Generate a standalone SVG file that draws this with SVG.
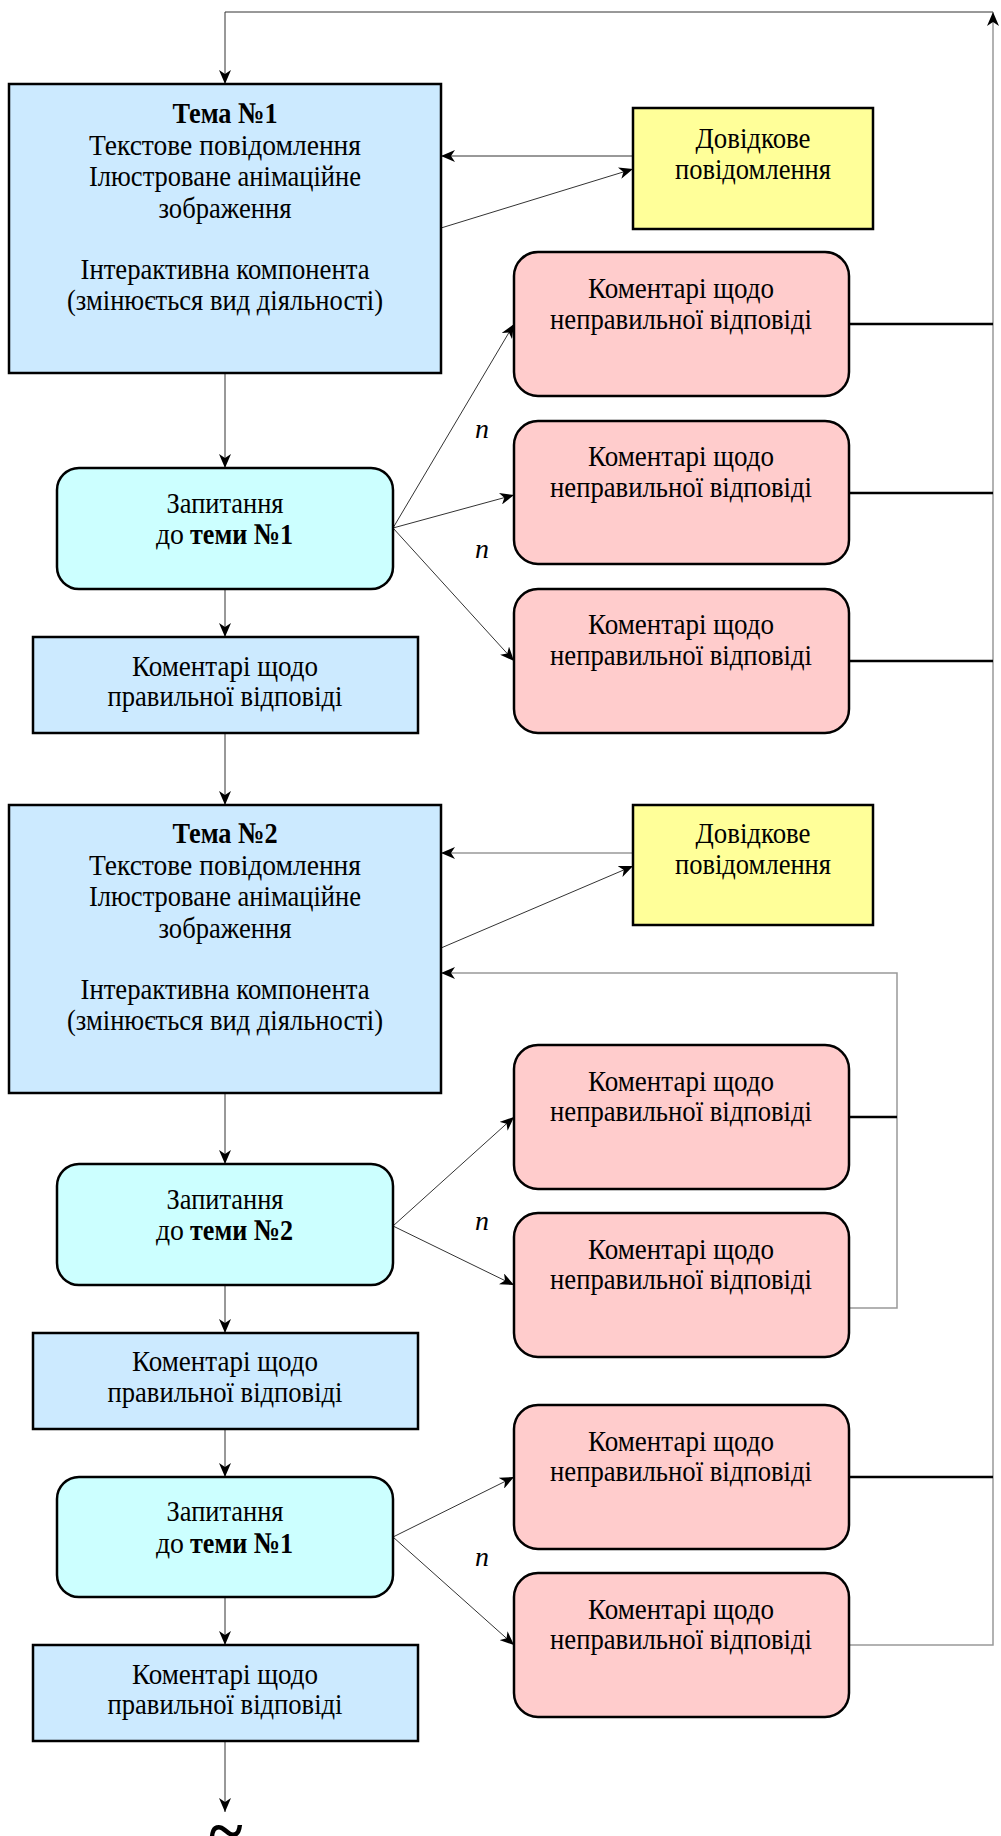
<svg xmlns="http://www.w3.org/2000/svg" width="1001" height="1836" viewBox="0 0 1001 1836">
<style>
text{font-family:"Liberation Serif","Times New Roman",serif;font-size:30px;fill:#000;text-anchor:middle}
.b{font-weight:bold}
.s{text-anchor:start}
.n{font-style:italic;font-size:28px}
.tema{fill:#CCEAFF;stroke:#000;stroke-width:2.5}
.yel{fill:#FFFF99;stroke:#000;stroke-width:2.5}
.pink{fill:#FFCCCC;stroke:#000;stroke-width:2.5}
.q{fill:#CCFFFF;stroke:#000;stroke-width:2.5}
.c{fill:none;stroke:#333;stroke-width:1}
.g{fill:none;stroke:#999;stroke-width:1.5}
.k{fill:none;stroke:#000;stroke-width:2.5}
.a{marker-end:url(#ar)}
</style>
<defs>
<marker id="ar" viewBox="0 0 14 12" refX="14" refY="6" markerWidth="14" markerHeight="12" orient="auto" markerUnits="userSpaceOnUse">
<path d="M0,0 L14,6 L0,12 L4,6 Z" fill="#000"/>
</marker>
</defs>
<g id="connectors">
<path class="g a" d="M849,1645 H993 V12"/>
<path class="c a" d="M993,12 H225 V84"/>
<path class="c a" d="M633,156 H441"/>
<path class="c a" d="M441,228 L633,169"/>
<path class="g a" d="M633,853 H441"/>
<path class="c a" d="M441,948 L633,866"/>
<path class="g a" d="M849,1308 H897 V973 H441"/>
<path class="k" d="M849,324 H993"/>
<path class="k" d="M849,493 H993"/>
<path class="k" d="M849,661 H993"/>
<path class="k" d="M849,1117 H897"/>
<path class="k" d="M849,1477 H993"/>
<path class="c a" d="M225,373 V468"/>
<path class="c a" d="M225,589 V637"/>
<path class="c a" d="M225,733 V805"/>
<path class="c a" d="M225,1093 V1164"/>
<path class="c a" d="M225,1285 V1333"/>
<path class="c a" d="M225,1429 V1477"/>
<path class="c a" d="M225,1597 V1645"/>
<path class="c a" d="M225,1741 V1812"/>
<path class="c a" d="M393,528 L514,324"/>
<path class="c a" d="M393,528 L514,495"/>
<path class="c a" d="M393,528 L514,661"/>
<path class="c a" d="M393,1226 L514,1117"/>
<path class="c a" d="M393,1226 L514,1285"/>
<path class="c a" d="M393,1537 L514,1477"/>
<path class="c a" d="M393,1537 L514,1645"/>
</g>
<g id="tema1">
<rect class="tema" x="9" y="84" width="432" height="289"/>
<text x="225" y="123" class="b" textLength="105" lengthAdjust="spacingAndGlyphs">Тема №1</text>
<text x="225" y="154.5" textLength="272" lengthAdjust="spacingAndGlyphs">Текстове повідомлення</text>
<text x="225" y="186" textLength="272" lengthAdjust="spacingAndGlyphs">Ілюстроване анімаційне</text>
<text x="225" y="217.5" textLength="133" lengthAdjust="spacingAndGlyphs">зображення</text>
<text x="225" y="279" textLength="289" lengthAdjust="spacingAndGlyphs">Інтерактивна компонента</text>
<text x="225" y="310" textLength="316" lengthAdjust="spacingAndGlyphs">(змінюється вид діяльності)</text>
</g>
<g id="dovidka1">
<rect class="yel" x="633" y="108" width="240" height="121"/>
<text x="753" y="148" textLength="115" lengthAdjust="spacingAndGlyphs">Довідкове</text>
<text x="753" y="179" textLength="156" lengthAdjust="spacingAndGlyphs">повідомлення</text>
</g>
<g id="pink1">
<rect class="pink" x="514" y="252" width="335" height="144" rx="24"/>
<text x="681" y="298" textLength="186" lengthAdjust="spacingAndGlyphs">Коментарі щодо</text>
<text x="681" y="329" textLength="262" lengthAdjust="spacingAndGlyphs">неправильної відповіді</text>
</g>
<g id="pink2">
<rect class="pink" x="514" y="421" width="335" height="143" rx="24"/>
<text x="681" y="466" textLength="186" lengthAdjust="spacingAndGlyphs">Коментарі щодо</text>
<text x="681" y="497" textLength="262" lengthAdjust="spacingAndGlyphs">неправильної відповіді</text>
</g>
<g id="pink3">
<rect class="pink" x="514" y="589" width="335" height="144" rx="24"/>
<text x="681" y="634" textLength="186" lengthAdjust="spacingAndGlyphs">Коментарі щодо</text>
<text x="681" y="665" textLength="262" lengthAdjust="spacingAndGlyphs">неправильної відповіді</text>
</g>
<g id="q1">
<rect class="q" x="57" y="468" width="336" height="121" rx="22"/>
<text x="225" y="513" textLength="117" lengthAdjust="spacingAndGlyphs">Запитання</text>
<text x="156" y="544" class="s" textLength="28" lengthAdjust="spacingAndGlyphs">до</text>
<text x="190" y="544" class="s b" textLength="103" lengthAdjust="spacingAndGlyphs">теми №1</text>
</g>
<g id="labels1">
<text x="482" y="438" class="n">n</text>
<text x="482" y="558" class="n">n</text>
</g>
<g id="correct1">
<rect class="tema" x="33" y="637" width="385" height="96"/>
<text x="225" y="676" textLength="186" lengthAdjust="spacingAndGlyphs">Коментарі щодо</text>
<text x="225" y="706" textLength="235" lengthAdjust="spacingAndGlyphs">правильної відповіді</text>
</g>
<g id="tema2">
<rect class="tema" x="9" y="805" width="432" height="288"/>
<text x="225" y="843" class="b" textLength="105" lengthAdjust="spacingAndGlyphs">Тема №2</text>
<text x="225" y="874.5" textLength="272" lengthAdjust="spacingAndGlyphs">Текстове повідомлення</text>
<text x="225" y="906" textLength="272" lengthAdjust="spacingAndGlyphs">Ілюстроване анімаційне</text>
<text x="225" y="937.5" textLength="133" lengthAdjust="spacingAndGlyphs">зображення</text>
<text x="225" y="999" textLength="289" lengthAdjust="spacingAndGlyphs">Інтерактивна компонента</text>
<text x="225" y="1030" textLength="316" lengthAdjust="spacingAndGlyphs">(змінюється вид діяльності)</text>
</g>
<g id="dovidka2">
<rect class="yel" x="633" y="805" width="240" height="120"/>
<text x="753" y="843" textLength="115" lengthAdjust="spacingAndGlyphs">Довідкове</text>
<text x="753" y="874" textLength="156" lengthAdjust="spacingAndGlyphs">повідомлення</text>
</g>
<g id="pink4">
<rect class="pink" x="514" y="1045" width="335" height="144" rx="24"/>
<text x="681" y="1091" textLength="186" lengthAdjust="spacingAndGlyphs">Коментарі щодо</text>
<text x="681" y="1121" textLength="262" lengthAdjust="spacingAndGlyphs">неправильної відповіді</text>
</g>
<g id="pink5">
<rect class="pink" x="514" y="1213" width="335" height="144" rx="24"/>
<text x="681" y="1259" textLength="186" lengthAdjust="spacingAndGlyphs">Коментарі щодо</text>
<text x="681" y="1289" textLength="262" lengthAdjust="spacingAndGlyphs">неправильної відповіді</text>
</g>
<g id="q2">
<rect class="q" x="57" y="1164" width="336" height="121" rx="22"/>
<text x="225" y="1209" textLength="117" lengthAdjust="spacingAndGlyphs">Запитання</text>
<text x="156" y="1240" class="s" textLength="28" lengthAdjust="spacingAndGlyphs">до</text>
<text x="190" y="1240" class="s b" textLength="103" lengthAdjust="spacingAndGlyphs">теми №2</text>
</g>
<g id="labels2">
<text x="482" y="1230" class="n">n</text>
</g>
<g id="correct2">
<rect class="tema" x="33" y="1333" width="385" height="96"/>
<text x="225" y="1371" textLength="186" lengthAdjust="spacingAndGlyphs">Коментарі щодо</text>
<text x="225" y="1402" textLength="235" lengthAdjust="spacingAndGlyphs">правильної відповіді</text>
</g>
<g id="pink6">
<rect class="pink" x="514" y="1405" width="335" height="144" rx="24"/>
<text x="681" y="1451" textLength="186" lengthAdjust="spacingAndGlyphs">Коментарі щодо</text>
<text x="681" y="1481" textLength="262" lengthAdjust="spacingAndGlyphs">неправильної відповіді</text>
</g>
<g id="pink7">
<rect class="pink" x="514" y="1573" width="335" height="144" rx="24"/>
<text x="681" y="1619" textLength="186" lengthAdjust="spacingAndGlyphs">Коментарі щодо</text>
<text x="681" y="1649" textLength="262" lengthAdjust="spacingAndGlyphs">неправильної відповіді</text>
</g>
<g id="q3">
<rect class="q" x="57" y="1477" width="336" height="120" rx="22"/>
<text x="225" y="1521" textLength="117" lengthAdjust="spacingAndGlyphs">Запитання</text>
<text x="156" y="1553" class="s" textLength="28" lengthAdjust="spacingAndGlyphs">до</text>
<text x="190" y="1553" class="s b" textLength="103" lengthAdjust="spacingAndGlyphs">теми №1</text>
</g>
<g id="labels3">
<text x="482" y="1566" class="n">n</text>
</g>
<g id="correct3">
<rect class="tema" x="33" y="1645" width="385" height="96"/>
<text x="225" y="1684" textLength="186" lengthAdjust="spacingAndGlyphs">Коментарі щодо</text>
<text x="225" y="1714" textLength="235" lengthAdjust="spacingAndGlyphs">правильної відповіді</text>
</g>
<g id="tilde">
<text x="226" y="1852" style="font-size:64px;font-weight:bold">~</text>
</g>
</svg>
